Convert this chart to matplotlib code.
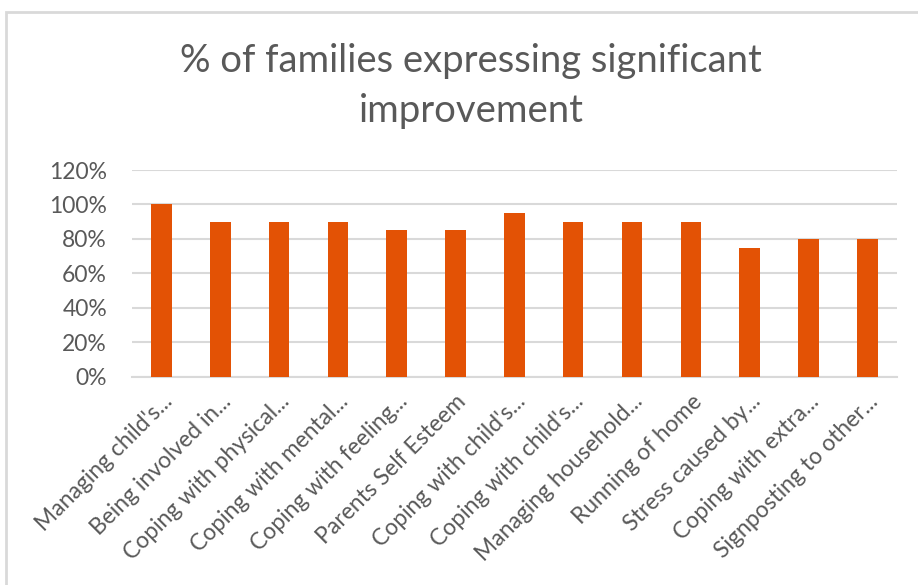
import numpy as np
import matplotlib.pyplot as plt
from matplotlib.ticker import PercentFormatter
from matplotlib.patches import Rectangle

plt.rcParams['font.family'] = ['Lato', 'DejaVu Sans']

categories = ["Managing child's...", "Being involved in...", "Coping with physical...",
              "Coping with mental...", "Coping with feeling...", "Parents Self Esteem",
              "Coping with child's...", "Coping with child's...", "Managing household...",
              "Running of home", "Stress caused by...", "Coping with extra...",
              "Signposting to other..."]
values = [1.00, 0.90, 0.90, 0.90, 0.85, 0.85, 0.95, 0.90, 0.90, 0.90, 0.75, 0.80, 0.80]
yticks = [0, 0.2, 0.4, 0.6, 0.8, 1.0, 1.2]

text_col = '#595959'
grid_col = '#d9d9d9'
bar_col = '#e35205'

fig = plt.figure(figsize=(9.18, 5.85), dpi=100)
# chart frame, runs off the right and bottom edges
fig.patches.append(Rectangle((6/918, -0.1), 1.2, 1.1 - 12/585, transform=fig.transFigure,
                             fill=False, edgecolor=grid_col, linewidth=2))

ax = fig.add_axes([0.1438, 0.356, 0.833, 0.3534])
x = np.arange(len(categories))
ax.bar(x, values, width=0.35, color=bar_col, zorder=3)

ax.set_xlim(-0.5, len(categories) - 0.5)
ax.set_ylim(0, 1.2)
ax.set_yticks(yticks)
ax.yaxis.set_major_formatter(PercentFormatter(1.0, decimals=0))
ax.grid(axis='y', color=grid_col, linewidth=1.5, zorder=0)
for s in ['top', 'right', 'left']:
    ax.spines[s].set_visible(False)
ax.spines['bottom'].set_color(grid_col)
ax.spines['bottom'].set_linewidth(1.5)
ax.tick_params(axis='both', length=0, labelsize=16.5, labelcolor=text_col)
ax.tick_params(axis='y', pad=18)
ax.set_xticks(x)
ax.set_xticklabels(categories, rotation=45, ha='right', rotation_mode='anchor')
ax.tick_params(axis='x', pad=10)

fig.text(0.513, 0.853, '% of families expressing significant\nimprovement', ha='center',
         va='center', fontsize=27.5, color=text_col, linespacing=1.45)

fig.savefig('out.png', dpi=100, facecolor='w')
